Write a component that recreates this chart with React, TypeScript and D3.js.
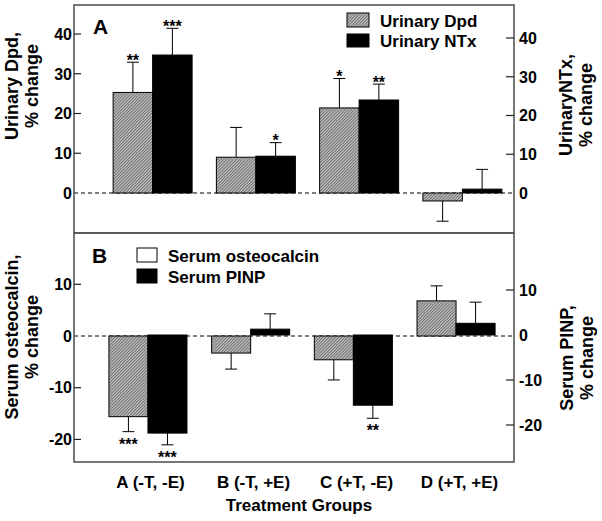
import React from "react";
import * as d3 from "d3";

// ---- data ----
const groups = ["A (-T, -E)", "B (-T, +E)", "C (+T, -E)", "D (+T, +E)"];

const dpdMean = [25.3, 9.0, 21.4, -2.0];
const dpdSem = [7.6, 7.5, 7.4, 5.1];
const dpdSig = ["**", "", "*", ""];

const ntxMean = [35.6, 9.5, 24.0, 1.0];
const ntxSem = [6.9, 3.5, 4.1, 5.1];
const ntxSig = ["***", "*", "**", ""];

const osteoMean = [-15.6, -3.3, -4.6, 6.8];
const osteoSem = [2.9, 3.1, 3.9, 2.9];
const osteoSig = ["***", "", "", ""];

const pinpMean = [-21.8, 1.3, -15.6, 2.6];
const pinpSem = [2.6, 3.4, 2.9, 4.7];
const pinpSig = ["***", "", "**", ""];

const ticksA = [0, 10, 20, 30, 40];
const ticksB = [10, 0, -10, -20];

const FONT = "'Liberation Sans', Arial, Helvetica, sans-serif";

const W = 602;
const H = 521;
const L = 74;
const R = 514;
const topA = 5;
const midY = 233;
const botB = 462;

// scales
const yLA = d3.scaleLinear().domain([0, 40]).range([193, 34]);
const yRA = d3.scaleLinear().domain([0, 40]).range([193, 38]);
const yLB = d3.scaleLinear().domain([0, -20]).range([336, 439.4]);
const yRB = d3.scaleLinear().domain([0, -20]).range([335, 425]);

const xA = d3.scaleBand<string>().domain(groups).range([101, 514]).paddingInner(0.235).paddingOuter(0.1175);
const xB = d3.scaleBand<string>().domain(groups).range([96.6, 507.4]).paddingInner(0.24).paddingOuter(0.12);
const xLab = d3.scaleBand<string>().domain(groups).range([99, 511]);

type Series = {
  mean: number[];
  sem: number[];
  sig: string[];
  y: d3.ScaleLinear<number, number>;
  fill: string;
};

function Bars({ series, x, idx }: { series: Series; x: d3.ScaleBand<string>; idx: number }) {
  const sub = d3.scaleBand<number>().domain([0, 1]).range([0, x.bandwidth()]);
  const y0 = series.y(0);
  return (
    <g>
      {groups.map((g, i) => {
        const m = series.mean[i];
        const s = series.sem[i];
        const bx = (x(g) as number) + (sub(idx) as number);
        const bw = sub.bandwidth();
        const cx = bx + bw / 2;
        const yv = series.y(m);
        const end = m >= 0 ? m + s : m - s;
        const ye = series.y(end);
        const star = series.sig[i];
        const sy = m >= 0 ? ye + 3.5 : ye + 18;
        return (
          <g key={g}>
            <line x1={cx} x2={cx} y1={yv} y2={ye} stroke="#000" strokeWidth={1} />
            <line x1={cx - 6} x2={cx + 6} y1={ye} y2={ye} stroke="#000" strokeWidth={1} />
            <rect
              x={bx}
              y={Math.min(yv, y0)}
              width={bw}
              height={Math.abs(yv - y0)}
              fill={series.fill}
              stroke="#000"
              strokeWidth={1}
            />
            {star && (
              <text x={cx} y={sy} textAnchor="middle" fontSize={16} fontWeight="bold" fontFamily={FONT}>
                {star}
              </text>
            )}
          </g>
        );
      })}
    </g>
  );
}

function YTitle({ x, y, lines }: { x: number; y: number; lines: string[] }) {
  return (
    <text
      transform={`translate(${x},${y}) rotate(-90)`}
      textAnchor="middle"
      fontSize={18}
      fontWeight="bold"
      fontFamily={FONT}
    >
      <tspan x={0} dy={0}>{lines[0]}</tspan>
      <tspan x={0} dy={20}>{lines[1]}</tspan>
    </text>
  );
}

function Axis({
  scale,
  ticks,
  side,
}: {
  scale: d3.ScaleLinear<number, number>;
  ticks: number[];
  side: "left" | "right";
}) {
  return (
    <g fontFamily={FONT} fontWeight="bold" fontSize={16}>
      {ticks.map((t) => {
        const yy = scale(t);
        return (
          <g key={t}>
            {t !== 0 &&
              (side === "left" ? (
                <line x1={L} x2={L + 7} y1={yy} y2={yy} stroke="#222" strokeWidth={1.2} />
              ) : (
                <line x1={R - 8} x2={R} y1={yy} y2={yy} stroke="#222" strokeWidth={1.2} />
              ))}
            <text
              x={side === "left" ? L - 2 : R + 5}
              y={yy}
              dy="0.36em"
              textAnchor={side === "left" ? "end" : "start"}
            >
              {t}
            </text>
          </g>
        );
      })}
    </g>
  );
}

export default function App() {
  const dpd: Series = { mean: dpdMean, sem: dpdSem, sig: dpdSig, y: yLA, fill: "url(#hatch)" };
  const ntx: Series = { mean: ntxMean, sem: ntxSem, sig: ntxSig, y: yRA, fill: "#000" };
  const osteo: Series = { mean: osteoMean, sem: osteoSem, sig: osteoSig, y: yLB, fill: "url(#hatch)" };
  const pinp: Series = { mean: pinpMean, sem: pinpSem, sig: pinpSig, y: yRB, fill: "#000" };

  return (
    <svg
      width={W}
      height={H}
      viewBox={`0 0 ${W} ${H}`}
      style={{ position: "absolute", left: 0, top: 0, background: "#fff" }}
    >
      <defs>
        <pattern id="hatch" patternUnits="userSpaceOnUse" width={2.2} height={2.2} patternTransform="rotate(45)">
          <rect width={2.2} height={2.2} fill="#c0c0c0" />
          <line x1={0.5} y1={0} x2={0.5} y2={2.2} stroke="#707070" strokeWidth={1} />
        </pattern>
      </defs>
      <rect width={W} height={H} fill="#fff" />

      {/* zero lines */}
      <line x1={L} x2={R} y1={yLA(0)} y2={yLA(0)} stroke="#000" strokeWidth={1} strokeDasharray="4,3" />
      <line x1={L} x2={R} y1={yLB(0)} y2={yLB(0)} stroke="#000" strokeWidth={1} strokeDasharray="4,3" />

      <Bars series={dpd} x={xA} idx={0} />
      <Bars series={ntx} x={xA} idx={1} />
      <Bars series={osteo} x={xB} idx={0} />
      <Bars series={pinp} x={xB} idx={1} />

      {/* frames */}
      <rect x={L} y={topA} width={R - L} height={midY - topA} fill="none" stroke="#555" strokeWidth={1.6} />
      <rect x={L} y={midY} width={R - L} height={botB - midY} fill="none" stroke="#555" strokeWidth={1.6} />

      <Axis scale={yLA} ticks={ticksA} side="left" />
      <Axis scale={yRA} ticks={ticksA} side="right" />
      <Axis scale={yLB} ticks={ticksB} side="left" />
      <Axis scale={yRB} ticks={ticksB} side="right" />

      {/* panel letters */}
      <text x={93} y={34} fontSize={21} fontWeight="bold" fontFamily={FONT}>A</text>
      <text x={92} y={263} fontSize={21} fontWeight="bold" fontFamily={FONT}>B</text>

      {/* legend A */}
      <g fontFamily={FONT} fontWeight="bold" fontSize={17}>
        <rect x={347} y={13} width={22} height={14} fill="url(#hatch)" stroke="#000" strokeWidth={1} />
        <text x={380} y={27}>Urinary Dpd</text>
        <rect x={347} y={34} width={22} height={13} fill="#000" stroke="#000" strokeWidth={1} />
        <text x={380} y={47}>Urinary NTx</text>
      </g>

      {/* legend B */}
      <g fontFamily={FONT} fontWeight="bold" fontSize={17}>
        <rect x={137} y={248} width={20} height={14} fill="#fff" stroke="#000" strokeWidth={1} />
        <text x={168} y={262}>Serum osteocalcin</text>
        <rect x={137} y={269} width={20} height={14} fill="#000" stroke="#000" strokeWidth={1} />
        <text x={168} y={283}>Serum PINP</text>
      </g>

      {/* axis titles */}
      <YTitle x={18} y={86} lines={["Urinary Dpd,", "% change"]} />
      <YTitle x={572} y={105} lines={["UrinaryNTx,", "% change"]} />
      <YTitle x={18} y={337} lines={["Serum osteocalcin,", "% change"]} />
      <YTitle x={573} y={358} lines={["Serum PINP,", "% change"]} />

      {/* x labels */}
      <g fontFamily={FONT} fontWeight="bold" fontSize={17} textAnchor="middle">
        {groups.map((g) => (
          <text key={g} x={(xLab(g) as number) + xLab.bandwidth() / 2} y={488}>
            {g}
          </text>
        ))}
        <text x={299} y={511}>Treatment Groups</text>
      </g>
    </svg>
  );
}
